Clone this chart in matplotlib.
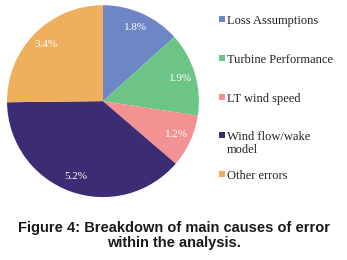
import matplotlib.pyplot as plt
from matplotlib.patches import Rectangle

# Error breakdown values (%)
labels = ['Loss Assumptions', 'Turbine Performance', 'LT wind speed',
          'Wind flow/wake\nmodel', 'Other errors']
values = [1.8, 1.9, 1.2, 5.2, 3.4]
colors = ['#6E85C6', '#6CC487', '#F39293', '#3C2C74', '#EFB05E']
caption = 'Figure 4: Breakdown of main causes of error\nwithin the analysis.'

W, H = 347, 260
fig = plt.figure(figsize=(W / 100, H / 100), dpi=100)
ax = fig.add_axes([0.0202, 0.242, 0.553, 0.738])

wedges, texts, autotexts = ax.pie(
    values, colors=colors, startangle=90, counterclock=False,
    autopct=lambda p: '{:.1f}%'.format(p * sum(values) / 100),
    pctdistance=0.84,
    textprops=dict(color='white', family='Liberation Serif', fontsize=8))
ax.set_xlim(-1, 1)
ax.set_ylim(-1, 1)
ax.set_aspect('equal')

# Legend drawn by hand (pixel layout converted to figure fraction)
for i, (lab, col) in enumerate(zip(labels, colors)):
    yc = 19 + 38.8 * i
    fig.patches.append(Rectangle((219 / W, 1 - (yc + 3) / H), 6 / W, 6 / H,
                                 transform=fig.transFigure, facecolor=col,
                                 edgecolor='none'))
    fig.text(227 / W, 1 - (yc - 4) / H, lab, ha='left', va='top',
             family='Liberation Serif', fontsize=9, color='#222222',
             linespacing=1.1)

# Caption
fig.text(0.5, 0.095, caption, ha='center', va='center', ma='center',
         fontsize=10.5, fontweight='bold', family='Liberation Sans',
         color='#1a1a1a', linespacing=1.1)

plt.savefig('out.png', dpi=100)
